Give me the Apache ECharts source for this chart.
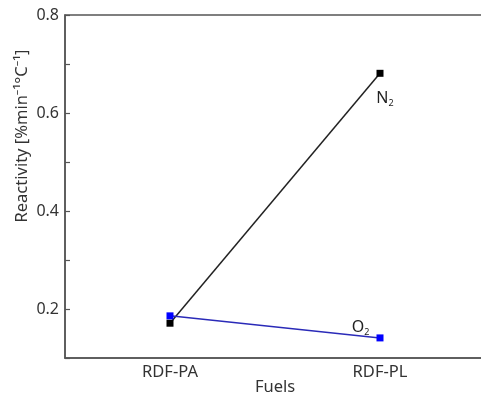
<!DOCTYPE html>
<html>
<head>
<meta charset="utf-8">
<script src="https://cdn.jsdelivr.net/npm/echarts@6/dist/echarts.min.js"></script>
<style>
  html, body { margin: 0; padding: 0; background: #fff; }
  #chart { width: 481px; height: 399px; }
</style>
</head>
<body>
<div id="chart"></div>
<script>
// 数据
const fuels = ["RDF-PA", "RDF-PL"];
const n2Values = [0.171, 0.681];
const o2Values = [0.186, 0.141];
const yTicks = [0.2, 0.4, 0.6, 0.8];

const chart = echarts.init(document.getElementById("chart"));
const font = "Noto Sans";
const axisColor = "#555";

const option = {
  animation: false,
  textStyle: { fontFamily: font },
  grid: {
    left: 65,
    top: 15,
    width: 420,
    height: 343,
    outerBoundsMode: "none",
    show: true,
    borderColor: axisColor,
    borderWidth: 1.5,
  },
  // 纵轴标题（带上标）
  graphic: [
    {
      type: "text",
      x: 22,
      y: 136,
      rotation: Math.PI / 2,
      style: {
        text: "Reactivity [%min⁻¹°C⁻¹]",
        fontSize: 16.5,
        fontFamily: font,
        fill: "#333",
        align: "center",
        verticalAlign: "middle",
      },
    },
  ],
  xAxis: {
    type: "category",
    data: fuels,
    boundaryGap: true,
    name: "Fuels",
    nameLocation: "middle",
    nameGap: 21,
    nameMoveOverlap: false,
    nameTextStyle: { fontSize: 16.5, color: "#333", fontFamily: font },
    axisLine: { lineStyle: { color: axisColor, width: 1.5 } },
    axisTick: { inside: true, length: 5, lineStyle: { color: axisColor, width: 1.2 } },
    axisLabel: { fontSize: 16.5, color: "#333", margin: 6, fontFamily: font },
    splitLine: { show: false },
  },
  yAxis: {
    type: "value",
    min: 0.1,
    max: 0.8,
    interval: 0.1,
    axisLine: { show: true, lineStyle: { color: axisColor, width: 1.5 } },
    axisTick: { show: true, inside: true, length: 5, lineStyle: { color: axisColor, width: 1.2 } },
    axisLabel: {
      fontSize: 16,
      color: "#333",
      margin: 6,
      fontFamily: font,
      formatter: (v) => {
        const hit = yTicks.find((t) => Math.abs(t - v) < 1e-6);
        return hit !== undefined ? hit.toFixed(1) : "";
      },
    },
    splitLine: { show: false },
  },
  series: [
    {
      name: "N2",
      type: "line",
      data: n2Values,
      symbol: "rect",
      symbolSize: 7,
      itemStyle: { color: "#000" },
      lineStyle: { color: "#222", width: 1.5 },
      label: {
        show: true,
        formatter: (p) => (p.dataIndex === 1 ? "{a|N}{s|2}" : ""),
        position: "bottom",
        offset: [5, 8],
        rich: {
          a: { fontSize: 16, color: "#222", fontFamily: font },
          s: { fontSize: 9, color: "#222", fontFamily: font, padding: [9, 0, 0, 0] },
        },
      },
    },
    {
      name: "O2",
      type: "line",
      data: o2Values,
      symbol: "rect",
      symbolSize: 7,
      itemStyle: { color: "#0000ff" },
      lineStyle: { color: "#2a2ab8", width: 1.5 },
      label: {
        show: true,
        formatter: (p) => (p.dataIndex === 1 ? "{a|O}{s|2}" : ""),
        position: "left",
        offset: [-2, -10],
        rich: {
          a: { fontSize: 16, color: "#222", fontFamily: font },
          s: { fontSize: 9, color: "#222", fontFamily: font, padding: [9, 0, 0, 0] },
        },
      },
    },
  ],
};

chart.setOption(option);
</script>
</body>
</html>
